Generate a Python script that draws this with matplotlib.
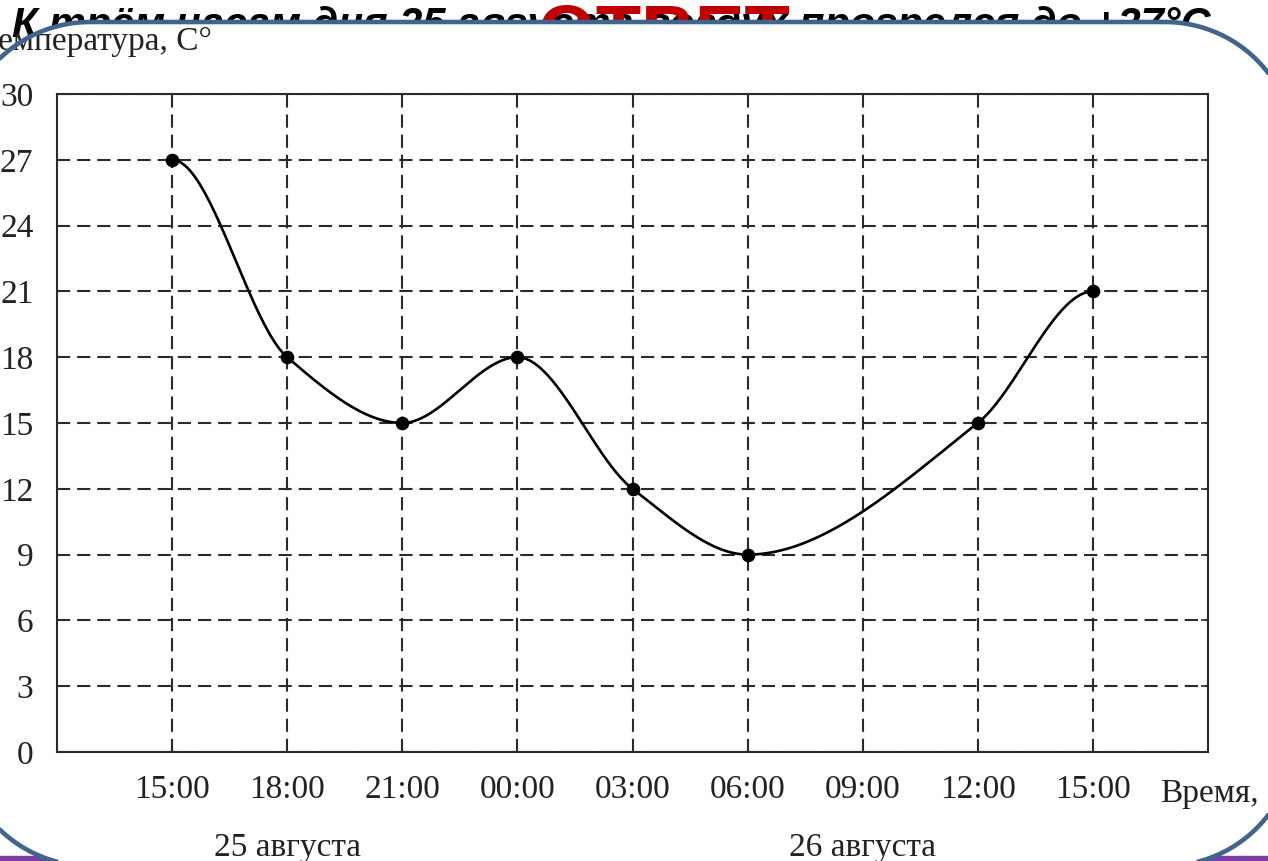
import numpy as np
import matplotlib
matplotlib.use('Agg')
import matplotlib.pyplot as plt
from matplotlib.patches import Polygon, Rectangle
from matplotlib.transforms import IdentityTransform

W, H, DPI = 1268, 861, 100

# data: hours after 15:00 on 25 August, temperature in C
hours = [0, 3, 6, 9, 12, 15, 21, 24]
temps = [27, 18, 15, 18, 12, 9, 15, 21]

tick_hours = [0, 3, 6, 9, 12, 15, 18, 21, 24]
tick_labels = ['15:00', '18:00', '21:00', '00:00', '03:00', '06:00',
               '09:00', '12:00', '15:00']
y_ticks = [0, 3, 6, 9, 12, 15, 18, 21, 24, 27, 30]
day_hours = [3, 18]
day_labels = ['25 августа', '26 августа']

title = 'К трём часам дня 25 августа воздух прогрелся до +27°С'
answer = 'ОТВЕТ'
y_label = 'Температура, С°'
x_label = 'Время,'


def smooth(x, y, n=50):
    """Monotone cubic (flat ends) through the points, for drawing only."""
    x = np.asarray(x, float)
    y = np.asarray(y, float)
    h = np.diff(x)
    d = np.diff(y) / h
    m = np.zeros_like(y)
    for k in range(1, len(x) - 1):
        if d[k - 1] * d[k] > 0:
            w1 = 2 * h[k] + h[k - 1]
            w2 = h[k] + 2 * h[k - 1]
            m[k] = (w1 + w2) / (w1 / d[k - 1] + w2 / d[k])
    xs, ys = [], []
    for k in range(len(x) - 1):
        t = np.linspace(0, 1, n)
        h00 = 2 * t**3 - 3 * t**2 + 1
        h10 = t**3 - 2 * t**2 + t
        h01 = -2 * t**3 + 3 * t**2
        h11 = t**3 - t**2
        xs.append(x[k] + t * h[k])
        ys.append(h00 * y[k] + h10 * h[k] * m[k] + h01 * y[k + 1] + h11 * h[k] * m[k + 1])
    return np.concatenate(xs), np.concatenate(ys)


def rounded_rect(x0, y0, x1, y1, r, n=40):
    """Vertices of a rounded rectangle in pixels (origin bottom-left)."""
    pts = []
    corners = [(x1 - r, y1 - r, 0), (x0 + r, y1 - r, 90),
               (x0 + r, y0 + r, 180), (x1 - r, y0 + r, 270)]
    for cx, cy, a0 in corners:
        a = np.radians(np.linspace(a0, a0 + 90, n))
        pts.extend(zip(cx + r * np.cos(a), cy + r * np.sin(a)))
    return np.array(pts)


fig = plt.figure(figsize=(W / DPI, H / DPI), dpi=DPI)
fig.patch.set_facecolor('white')
px = IdentityTransform()
renderer = fig.canvas.get_renderer()


def fit_text(s, x, top, width, **kw):
    t = fig.text(x, 0, s, transform=px, fontsize=30, **kw)
    w = t.get_window_extent(renderer).width
    fs = 30 * width / w
    t.set_fontsize(fs)
    em = fs * DPI / 72
    t.set_y(H - (top + 0.72 * em))
    return t


# slide background bits
fig.patches.append(Rectangle((0, 0), W, 5, transform=px, color='#7a3fa6', zorder=-6))

fit_text(title, 12, 7, 1198, family='Liberation Sans', weight='bold',
         style='italic', color='black', ha='left', va='baseline', zorder=-5)
fit_text(answer, 538, 3, 252, family='Liberation Sans', weight='bold',
         color='#c00000', ha='left', va='baseline', zorder=-4)

# rounded panel: white fill under the chart, outline on top
verts = rounded_rect(-40, H - 866, 1295, H - 22, 130)
fig.patches.append(Polygon(verts, closed=True, transform=px, facecolor='white',
                           edgecolor='none', zorder=-1))
fig.patches.append(Polygon(verts, closed=True, transform=px, facecolor='none',
                           edgecolor='#41648f', linewidth=3.3, zorder=10))

# chart
ax = fig.add_axes([57 / W, 1 - 752 / H, (1208 - 57) / W, (752 - 94) / H])
ax.set_facecolor('none')
ax.set_xlim(-3, 27)
ax.set_ylim(0, 30)

plt.rcParams['lines.scale_dashes'] = False
ax.set_xticks(tick_hours)
ax.set_xticklabels(tick_labels)
ax.set_yticks(y_ticks)
ax.grid(True, color='#2a2a2a', linewidth=1.5, linestyle=(0, (9.5, 5)))
ax.set_axisbelow(True)

for s in ax.spines.values():
    s.set_color('#2a2a2a')
    s.set_linewidth(1.5)

ax.tick_params(direction='in', length=5, width=1.2, color='#2a2a2a',
               top=True, right=True, labelsize=24)
ax.tick_params(axis='x', pad=16)
ax.tick_params(axis='y', pad=17)
for lab in ax.get_xticklabels() + ax.get_yticklabels():
    lab.set_family('Liberation Serif')
    lab.set_color('#222222')

cx, cy = smooth(hours, temps)
ax.plot(cx, cy, color='black', linewidth=1.9, zorder=3)
ax.plot(hours, temps, 'o', color='black', markersize=8.8, zorder=4)

serif = dict(family='Liberation Serif', fontsize=24, color='#222222')
fig.text(212, H - 50, y_label, transform=px, ha='right', va='baseline', **serif)
fig.text(1160, H - 802, x_label, transform=px, ha='left', va='baseline', **serif)
for hx, lab in zip(day_hours, day_labels):
    ax.annotate(lab, xy=(hx, 0), xycoords='data', xytext=(0, -104),
                textcoords='offset pixels', ha='center', va='baseline',
                annotation_clip=False, **serif)

fig.savefig('out.png', dpi=DPI)
